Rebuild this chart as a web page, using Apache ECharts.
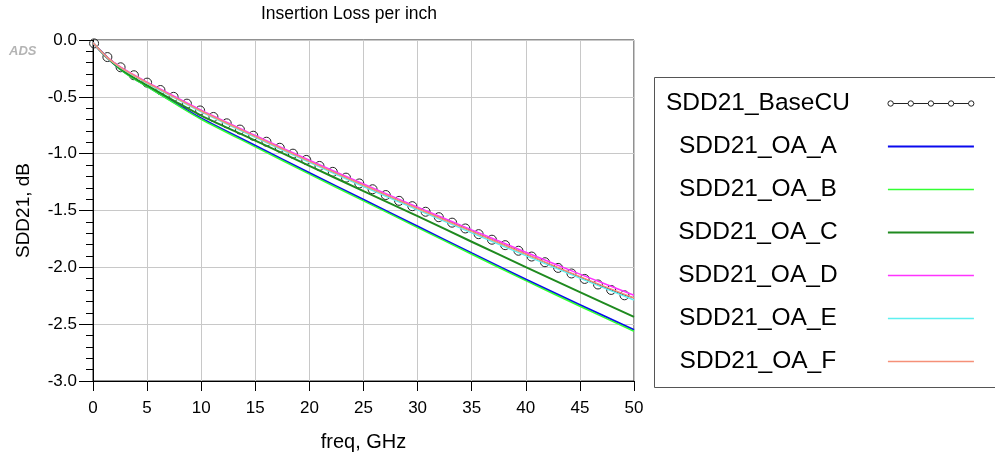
<!DOCTYPE html>
<html>
<head>
<meta charset="utf-8">
<script src="https://cdn.jsdelivr.net/npm/echarts@6/dist/echarts.min.js"></script>
<style>
html,body{margin:0;padding:0;background:#fff;}
#c{width:995px;height:457px;}
</style>
</head>
<body>
<div id="c"></div>
<script>
// ---- data ----
const baseFreq = [0.1, 1.33, 2.55, 3.78, 5.0, 6.23, 7.45, 8.68, 9.9, 11.13, 12.36, 13.58, 14.81, 16.03, 17.26, 18.48, 19.71, 20.93, 22.16, 23.38, 24.61, 25.84, 27.06, 28.29, 29.51, 30.74, 31.96, 33.19, 34.41, 35.64, 36.87, 38.09, 39.32, 40.54, 41.77, 42.99, 44.22, 45.44, 46.67, 47.89, 49.12, 50];
const baseCU = [-0.03, -0.15, -0.24, -0.31, -0.375, -0.44, -0.50, -0.56, -0.62, -0.677, -0.733, -0.788, -0.842, -0.895, -0.948, -1.0, -1.055, -1.108, -1.16, -1.211, -1.262, -1.313, -1.364, -1.415, -1.462, -1.511, -1.559, -1.607, -1.658, -1.708, -1.757, -1.805, -1.854, -1.905, -1.955, -2.005, -2.054, -2.102, -2.151, -2.199, -2.246, -2.268];
const freq = [0, 1.25, 2.5, 3.75, 5, 7.5, 10, 15, 20, 25, 30, 35, 40, 45, 50];
const oaA = [-0.025, -0.15, -0.255, -0.335, -0.405, -0.55, -0.69, -0.93, -1.17, -1.405, -1.64, -1.875, -2.107, -2.33, -2.55];
const oaB = [-0.025, -0.15, -0.258, -0.34, -0.41, -0.556, -0.697, -0.94, -1.18, -1.415, -1.65, -1.885, -2.117, -2.342, -2.562];
const oaC = [-0.025, -0.15, -0.25, -0.33, -0.40, -0.535, -0.665, -0.885, -1.107, -1.33, -1.55, -1.775, -1.998, -2.218, -2.436];
const oaD = [-0.025, -0.145, -0.235, -0.305, -0.37, -0.495, -0.617, -0.84, -1.058, -1.267, -1.47, -1.67, -1.867, -2.06, -2.245];
const oaE = [-0.025, -0.15, -0.242, -0.314, -0.381, -0.507, -0.632, -0.857, -1.077, -1.29, -1.494, -1.697, -1.897, -2.095, -2.288];
const oaF = [-0.025, -0.148, -0.238, -0.31, -0.376, -0.502, -0.625, -0.849, -1.068, -1.278, -1.482, -1.684, -1.883, -2.082, -2.27];
const seriesNames = ['SDD21_BaseCU', 'SDD21_OA_A', 'SDD21_OA_B', 'SDD21_OA_C', 'SDD21_OA_D', 'SDD21_OA_E', 'SDD21_OA_F'];
const xTicks = [0, 5, 10, 15, 20, 25, 30, 35, 40, 45, 50];
const yTicks = [0.0, -0.5, -1.0, -1.5, -2.0, -2.5, -3.0];

// ---- styling ----
const FONT = "'Liberation Sans', Arial, sans-serif";
const oaSeries = [
  {data: oaA, color: '#0a0aee', width: 2},
  {data: oaB, color: '#33ff33', width: 1.5},
  {data: oaC, color: '#1f8a1f', width: 2},
  {data: oaD, color: '#ff33ff', width: 1.5},
  {data: oaE, color: '#5ef0f0', width: 1.5},
  {data: oaF, color: '#f59078', width: 1.5}
];

function pairs(xs, ys) { return xs.map((x, i) => [x, ys[i]]); }

// legend icon for BaseCU: line with 5 hollow circles
function baseIconPath() {
  const r = 2.7, cy = 2.7, n = 5, w = 86;
  const step = (w - 2 * r) / (n - 1);
  let p = '';
  for (let i = 0; i < n; i++) {
    const cx = r + i * step;
    p += 'M' + (cx - r) + ',' + cy + ' A' + r + ',' + r + ' 0 1 0 ' + (cx + r) + ',' + cy +
         ' A' + r + ',' + r + ' 0 1 0 ' + (cx - r) + ',' + cy + ' Z ';
    if (i < n - 1) {
      p += 'M' + (cx + r) + ',' + cy + ' L' + (cx + step - r) + ',' + cy + ' ';
    }
  }
  return 'path://' + p;
}
function barIcon(h) { return 'path://M0,0 L86,0 L86,' + h + ' L0,' + h + ' Z'; }

const baseData = pairs(baseFreq, baseCU).map((p, i, arr) =>
  i === arr.length - 1 ? {value: p, symbol: 'none'} : p);

const series = [{
  name: seriesNames[0],
  type: 'line',
  data: baseData,
  symbol: 'circle',
  symbolSize: 9,
  lineStyle: {color: '#111', width: 1},
  itemStyle: {color: 'rgba(0,0,0,0)', borderColor: '#222', borderWidth: 1},
  emphasis: {disabled: true},
  z: 2
}].concat(oaSeries.map((s, i) => ({
  name: seriesNames[i + 1],
  type: 'line',
  data: pairs(freq, s.data),
  symbol: 'none',
  smooth: 0.3,
  lineStyle: {color: s.color, width: s.width},
  itemStyle: {color: s.color},
  emphasis: {disabled: true},
  z: 3
})));

const legendData = [{
  name: seriesNames[0],
  icon: baseIconPath(),
  itemStyle: {color: '#fff', borderColor: '#222', borderWidth: 1}
}].concat(oaSeries.map((s, i) => ({
  name: seriesNames[i + 1],
  icon: barIcon(s.width),
  itemStyle: {color: s.color, borderWidth: 0}
})));

const chart = echarts.init(document.getElementById('c'), null, {renderer: 'canvas'});
chart.setOption({
  animation: false,
  backgroundColor: '#fff',
  title: {
    text: 'Insertion Loss per inch',
    left: 261, top: 5, padding: 0,
    textStyle: {fontSize: 17.5, fontWeight: 'normal', color: '#000', fontFamily: FONT}
  },
  grid: {left: 93, right: 361, top: 40, bottom: 75, show: true, borderColor: '#222', borderWidth: 1, backgroundColor: 'transparent'},
  xAxis: {
    type: 'value', min: xTicks[0], max: xTicks[xTicks.length - 1], interval: 5,
    name: 'freq, GHz', nameLocation: 'middle', nameGap: 51,
    nameTextStyle: {fontSize: 20, color: '#000', fontFamily: FONT},
    axisLine: {onZero: false, lineStyle: {color: '#000', width: 1}},
    axisTick: {length: 10, lineStyle: {color: '#000'}},
    axisLabel: {fontSize: 17, color: '#000', margin: 19, fontFamily: FONT},
    splitLine: {show: true, lineStyle: {color: '#c8c8c8', width: 1}}
  },
  yAxis: {
    type: 'value', min: yTicks[yTicks.length - 1], max: yTicks[0], interval: 0.5,
    name: 'SDD21, dB', nameLocation: 'middle', nameGap: 60,
    nameTextStyle: {fontSize: 19, color: '#000', fontFamily: FONT},
    axisLine: {onZero: false, lineStyle: {color: '#000', width: 1}},
    axisTick: {length: 14, lineStyle: {color: '#000'}},
    minorTick: {show: true, splitNumber: 5, length: 7, lineStyle: {color: '#000'}},
    axisLabel: {fontSize: 17, color: '#000', margin: 16, fontFamily: FONT, formatter: v => v.toFixed(1)},
    splitLine: {show: true, lineStyle: {color: '#c8c8c8', width: 1}}
  },
  legend: {
    orient: 'vertical', left: 666, top: 91, align: 'right',
    itemWidth: 86, itemHeight: 8, itemGap: 18, padding: 0,
    symbolKeepAspect: true,
    selectedMode: false,
    formatter: n => '{t|' + n + '}',
    textStyle: {fontSize: 24.5, color: '#000', fontFamily: FONT,
      rich: {t: {width: 250, align: 'center', fontSize: 24.5, color: '#000', fontFamily: FONT}}},
    data: legendData
  },
  graphic: [
    {type: 'rect', left: 652, top: 75, z: 0, silent: true,
     shape: {width: 341, height: 310},
     style: {fill: 'none', stroke: '#555', lineWidth: 1}},
    {type: 'text', left: 9, top: 45, silent: true,
     style: {text: 'ADS', font: 'italic bold 13px ' + FONT, fill: '#b4b4b4'}}
  ],
  series: series
});
</script>
</body>
</html>
